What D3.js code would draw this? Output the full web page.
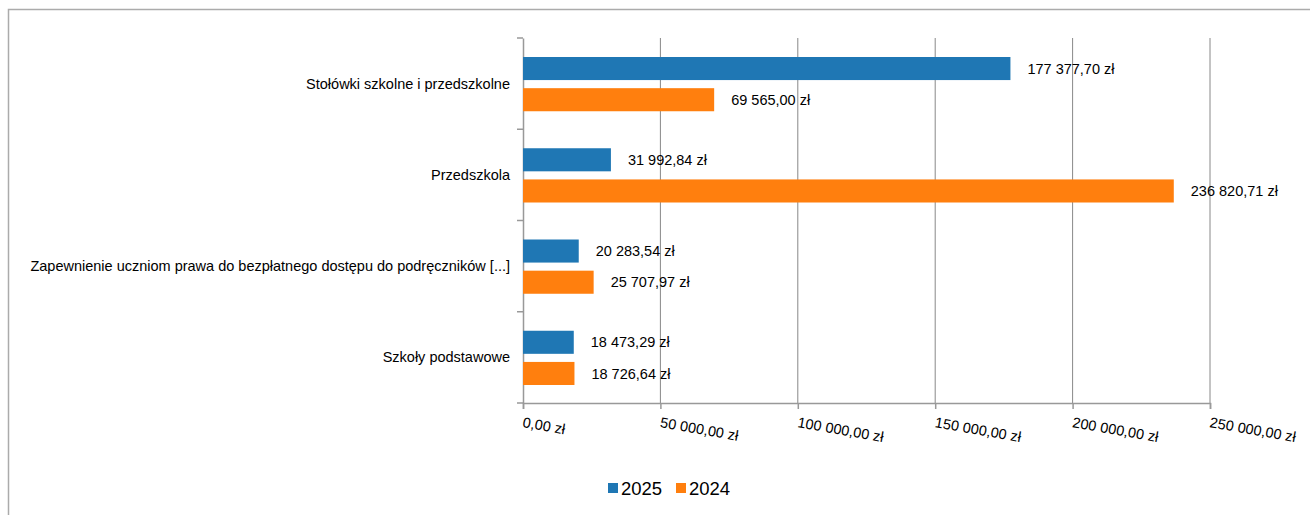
<!DOCTYPE html>
<html><head><meta charset="utf-8">
<script src="https://cdn.jsdelivr.net/npm/d3@7"></script>
<style>body{margin:0;background:#fff}svg{display:block;font-family:"Liberation Sans",Arial,sans-serif}</style>
</head><body>
<svg id="c" width="1310" height="515"></svg>
<script>
const categories = ["Stołówki szkolne i przedszkolne","Przedszkola","Zapewnienie uczniom prawa do bezpłatnego dostępu do podręczników [...]","Szkoły podstawowe"];
const seriesNames = ["2025","2024"];
const values2025 = [177377.70, 31992.84, 20283.54, 18473.29];
const values2024 = [69565.00, 236820.71, 25707.97, 18726.64];
const tickValues = [0, 50000, 100000, 150000, 200000, 250000];
const colors = ["#1f77b4", "#ff7f0e"];

const fmt = v => {
  const s = v.toFixed(2).split(".");
  const int = s[0].replace(/\B(?=(\d{3})+(?!\d))/g, " ");
  return int + "," + s[1] + " zł";
};

const svg = d3.select("#c");
// frame
svg.append("path").attr("d","M8.5,515 L8.5,9.5 L1310,9.5").attr("fill","none").attr("stroke","#ababab").attr("stroke-width",1.5);

const x = d3.scaleLinear().domain([0,250000]).range([523,1210]);
const y = d3.scaleBand().domain(categories).range([38,403]);
const inner = d3.scaleBand().domain(seriesNames).range([19, y.bandwidth()-18]).paddingInner(0.26);

// gridlines
svg.append("g").selectAll("line").data(tickValues.slice(1)).join("line")
  .attr("x1",d=>x(d)).attr("x2",d=>x(d)).attr("y1",38).attr("y2",403)
  .attr("stroke","#888").attr("stroke-width",1);

// y axis
const ya = svg.append("g").attr("transform","translate(523,0)")
  .call(d3.axisLeft(y).tickSize(0).tickFormat(""));
ya.select(".domain").attr("stroke","#999").attr("stroke-width",1.5);
const bounds = categories.map(c=>y(c)).concat([403]);
svg.append("g").selectAll("line").data(bounds).join("line")
  .attr("x1",517).attr("x2",523).attr("y1",d=>d).attr("y2",d=>d).attr("stroke","#999").attr("stroke-width",1.5);
svg.append("g").selectAll("text").data(categories).join("text")
  .attr("x",510).attr("y",d=>y(d)+y.bandwidth()/2).attr("dy","0.35em")
  .attr("text-anchor","end").attr("font-size",14.5).attr("fill","#000").text(d=>d);

// x axis
const xa = svg.append("g").attr("transform","translate(0,403)")
  .call(d3.axisBottom(x).tickValues(tickValues).tickSize(6).tickFormat(""));
xa.select(".domain").attr("stroke","#999").attr("stroke-width",1.5);
xa.selectAll(".tick line").attr("stroke","#999").attr("stroke-width",1.5);
svg.append("g").selectAll("text").data(tickValues).join("text")
  .attr("transform",d=>`translate(${x(d)},422) rotate(10)`)
  .attr("dy","0.35em").attr("font-size",14.5).attr("fill","#000").text(d=>fmt(d));

// bars
const data = categories.map((c,i)=>({c, vals:[values2025[i], values2024[i]]}));
const g = svg.append("g");
data.forEach(d=>{
  d.vals.forEach((v,j)=>{
    const yy = y(d.c)+inner(seriesNames[j]);
    g.append("rect").attr("x",x(0)).attr("y",yy).attr("width",x(v)-x(0)).attr("height",inner.bandwidth())
      .attr("fill",colors[j]);
    g.append("text").attr("x",x(v)+17).attr("y",yy+inner.bandwidth()/2).attr("dy","0.35em")
      .attr("font-size",14.5).attr("fill","#000").text(fmt(v));
  });
});

// legend
const lg = svg.append("g");
const lx = [608, 676];
seriesNames.forEach((s,i)=>{
  lg.append("rect").attr("x",lx[i]).attr("y",483).attr("width",10).attr("height",10).attr("fill",colors[i]);
  lg.append("text").attr("x",lx[i]+13).attr("y",488).attr("dy","0.36em").attr("font-size",18.5).attr("fill","#000").text(s);
});
</script>
</body></html>
